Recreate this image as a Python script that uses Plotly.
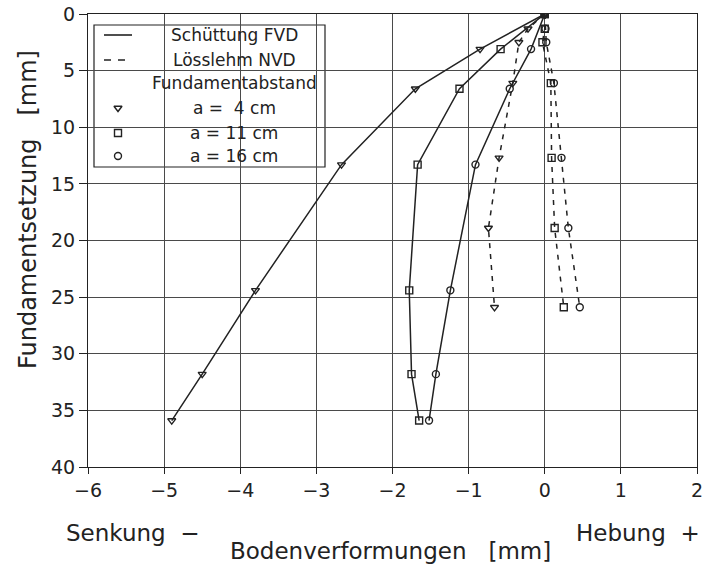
import plotly.graph_objects as go

# ---- data ----
y_fvd = [0, 3.1, 6.6, 13.3, 24.4, 31.8, 35.9]
x_fvd_a4 = [0, -0.85, -1.70, -2.67, -3.80, -4.50, -4.90]
x_fvd_a11 = [0, -0.58, -1.12, -1.67, -1.78, -1.75, -1.65]
x_fvd_a16 = [0, -0.18, -0.46, -0.91, -1.24, -1.43, -1.52]

y_nvd = [0, 1.3, 2.5, 6.1, 12.7, 18.9, 25.9]
x_nvd_a4 = [0, -0.22, -0.34, -0.42, -0.60, -0.74, -0.66]
x_nvd_a11 = [0, 0.0, -0.03, 0.08, 0.09, 0.13, 0.25]
x_nvd_a16 = [0, 0.01, 0.02, 0.12, 0.22, 0.31, 0.46]

x_ticks = [-6, -5, -4, -3, -2, -1, 0, 1, 2]
y_ticks = [0, 5, 10, 15, 20, 25, 30, 35, 40]

legend_labels = ["Schüttung FVD", "Lösslehm NVD", "Fundamentabstand",
                 "a =  4 cm", "a = 11 cm", "a = 16 cm"]

# ---- layout constants ----
W, H = 706, 567
L, R, T, B = 88, 697, 14, 467
FONT = "DejaVu Sans"
INK = "#222222"
GRID = "#4a4a4a"

def pxx(px):
    return (px - L) / (R - L)

def pxy(py):
    return (B - py) / (B - T)

def dx(px):
    return -6 + (px - L) / (R - L) * 8

def dy(py):
    return (py - T) / (B - T) * 40

markers = {"a4": "triangle-down-open", "a11": "square-open", "a16": "circle-open"}
msize = 7

fig = go.Figure()

series = [
    (x_fvd_a4, y_fvd, "solid", "a4", "FVD a=4"),
    (x_fvd_a11, y_fvd, "solid", "a11", "FVD a=11"),
    (x_fvd_a16, y_fvd, "solid", "a16", "FVD a=16"),
    (x_nvd_a4, y_nvd, "5px,6px", "a4", "NVD a=4"),
    (x_nvd_a11, y_nvd, "5px,6px", "a11", "NVD a=11"),
    (x_nvd_a16, y_nvd, "5px,6px", "a16", "NVD a=16"),
]
for xs, ys, dash, key, name in series:
    fig.add_trace(go.Scatter(
        x=xs, y=ys, mode="lines+markers", name=name, showlegend=False,
        line=dict(color=INK, width=1.5, dash=dash),
        marker=dict(symbol=markers[key], size=msize, color=INK,
                    line=dict(color=INK, width=1.4)),
    ))

# ---- hand-made legend ----
shapes = []
annotations = []
box = dict(x0=94, x1=325, y0=25, y1=167)
shapes.append(dict(type="rect", xref="paper", yref="paper",
                   x0=pxx(box["x0"]), x1=pxx(box["x1"]),
                   y0=pxy(box["y1"]), y1=pxy(box["y0"]),
                   line=dict(color=INK, width=1.2), fillcolor="white",
                   layer="between"))
row_y = [35, 60, 83, 108, 133, 156]
shapes.append(dict(type="line", xref="paper", yref="paper",
                   x0=pxx(104), x1=pxx(132), y0=pxy(row_y[0]), y1=pxy(row_y[0]),
                   line=dict(color=INK, width=1.6), layer="above"))
shapes.append(dict(type="line", xref="paper", yref="paper",
                   x0=pxx(104), x1=pxx(132), y0=pxy(row_y[1]), y1=pxy(row_y[1]),
                   line=dict(color=INK, width=1.6, dash="7px,7px"), layer="above"))
for key, ry in zip(["a4", "a11", "a16"], row_y[3:]):
    fig.add_trace(go.Scatter(
        x=[dx(118)], y=[dy(ry)], mode="markers", showlegend=False,
        hoverinfo="skip",
        marker=dict(symbol=markers[key], size=msize, color=INK,
                    line=dict(color=INK, width=1.4)),
    ))
for lab, ry in zip(legend_labels, row_y):
    annotations.append(dict(text=lab, xref="paper", yref="paper",
                            x=pxx(234), y=pxy(ry), xanchor="center",
                            yanchor="middle", showarrow=False,
                            font=dict(family=FONT, size=17, color=INK)))

# ---- axis texts ----
annotations.append(dict(text="Senkung  −", xref="paper", yref="paper",
                        x=pxx(64), y=pxy(533), xanchor="left", yanchor="middle",
                        showarrow=False, font=dict(family=FONT, size=23, color=INK)))
annotations.append(dict(text="Hebung  +", xref="paper", yref="paper",
                        x=pxx(702), y=pxy(533), xanchor="right", yanchor="middle",
                        showarrow=False, font=dict(family=FONT, size=23, color=INK)))
annotations.append(dict(text="Bodenverformungen   [mm]", xref="paper", yref="paper",
                        x=pxx(390), y=pxy(551), xanchor="center", yanchor="middle",
                        showarrow=False, font=dict(family=FONT, size=23, color=INK)))
annotations.append(dict(text="Fundamentsetzung   [mm]", xref="paper", yref="paper",
                        x=pxx(28), y=pxy(210), xanchor="center", yanchor="middle",
                        textangle=-90, showarrow=False,
                        font=dict(family=FONT, size=24, color=INK)))

fig.update_layout(
    width=W, height=H,
    margin=dict(l=L, r=W - R, t=T, b=H - B, pad=0, autoexpand=False),
    paper_bgcolor="white", plot_bgcolor="white",
    shapes=shapes, annotations=annotations,
    font=dict(family=FONT, color=INK),
    showlegend=False,
)
fig.update_xaxes(range=[-6, 2], tickvals=x_ticks, ticks="outside", ticklen=6,
                 tickcolor=INK, showgrid=True, gridcolor=GRID, gridwidth=1,
                 showline=True, linecolor=INK, linewidth=1.2, mirror=True,
                 automargin=False,
                 zeroline=False, tickfont=dict(family=FONT, size=19, color=INK))
fig.update_yaxes(range=[40, 0], tickvals=y_ticks, ticks="outside", ticklen=8,
                 tickcolor=INK, showgrid=True, gridcolor=GRID, gridwidth=1,
                 showline=True, linecolor=INK, linewidth=1.2, mirror=True,
                 automargin=False,
                 zeroline=False, tickfont=dict(family=FONT, size=19, color=INK))

fig.write_html("out.html")
